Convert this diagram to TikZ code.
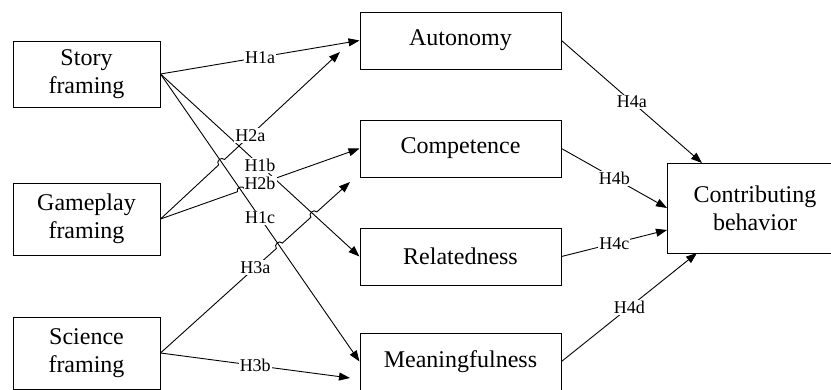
\documentclass[tikz,border=0pt]{standalone}
\usepackage{fontspec}
\setmainfont{Liberation Serif}
\usetikzlibrary{arrows.meta,calc,intersections}

\begin{document}
\begin{tikzpicture}[x=1pt,y=-1pt,
  box/.style={draw,line width=1pt,align=center,inner sep=0pt,font=\fontsize{24}{28}\selectfont},
  lbl/.style={fill=white,inner sep=1pt,font=\fontsize{18}{20}\selectfont},
  arr/.style={line width=0.9pt,-{Triangle[length=11pt,width=8pt]}},
  hop/.style={bend left=90,looseness=1.5}]
\clip (0,0) rectangle (831,389);
%% framings on the left
    \node [box,minimum width=147pt,minimum height=66pt] (story) at (86.5,74) {Story\\framing};
    \node [box,minimum width=147pt,minimum height=72pt] (game) at (86.5,219) {Gameplay\\framing};
    \node [box,minimum width=147pt,minimum height=72pt] (sci) at (86.5,353) {Science\\framing};
%% needs in the middle
    \node [box,minimum width=201pt,minimum height=57pt] (auto) at (460.5,40.5) {Autonomy};
    \node [box,minimum width=201pt,minimum height=57pt] (comp) at (460.5,148.5) {Competence};
    \node [box,minimum width=201pt,minimum height=57pt] (rel) at (460.5,256.5) {Relatedness};
    \node [box,minimum width=201pt,minimum height=57pt] (mean) at (460.5,361.5) {Meaningfulness};
%% outcome
    \node [box,minimum width=176pt,minimum height=90pt] (cb) at (755,208) {Contributing\\behavior};
%% loose arrow ends
    \coordinate (a2tip) at (340,52);
    \coordinate (a3tip) at (350,182);
    \coordinate (b3tip) at (350,378);
    \coordinate (c4a) at (702,163);
    \coordinate (c4b) at (667,208);
    \coordinate (c4c) at (667,230);
    \coordinate (c4d) at (697,253);
%% crossings, so the lines can hop
    \path [name path=p1b] (story.east) -- (rel.west);
    \path [name path=p1c] (story.east) -- (mean.west);
    \path [name path=p2a] (game.east) -- (a2tip);
    \path [name path=p2b] (game.east) -- (comp.west);
    \path [name path=p3a] (sci.east) -- (a3tip);
    \path [name intersections={of=p1c and p2a,by=j1}];
    \path [name intersections={of=p1c and p2b,by=j2}];
    \path [name intersections={of=p1c and p3a,by=j3}];
    \path [name intersections={of=p1b and p3a,by=j4}];
%% arrows
    \draw [arr] (story.east) -- (auto.west);
    \draw [arr] (story.east) -- (rel.west);
    \draw [arr] (story.east) -- (mean.west);
    \draw [arr] (game.east) -- ($(j1)!4pt!(game.east)$) to[hop] ($(j1)!4pt!(a2tip)$) -- (a2tip);
    \draw [arr] (game.east) -- ($(j2)!4pt!(game.east)$) to[hop] ($(j2)!4pt!(comp.west)$) -- (comp.west);
    \draw [arr] (sci.east) -- ($(j3)!4pt!(sci.east)$) to[hop] ($(j3)!4pt!(a3tip)$)
        -- ($(j4)!4pt!(sci.east)$) to[hop] ($(j4)!4pt!(a3tip)$) -- (a3tip);
    \draw [arr] (sci.east) -- (b3tip);
    \draw [arr] (auto.east) -- (c4a);
    \draw [arr] (comp.east) -- (c4b);
    \draw [arr] (rel.east) -- (c4c);
    \draw [arr] (mean.east) -- (c4d);
%% hypothesis labels
    \node [lbl] (l1a) at ($(story.east)!0.5!(auto.west)$) {H1a};
    \node [lbl] (l1b) at ($(story.east)!0.5!(rel.west)$) {H1b};
    \node [lbl] (l1c) at ($(story.east)!0.5!(mean.west)$) {H1c};
    \node [lbl] (l2a) at ($(game.east)!0.5!(a2tip)$) {H2a};
    \node [lbl] (l2b) at ($(game.east)!0.5!(comp.west)$) {H2b};
    \node [lbl] (l3a) at ($(sci.east)!0.5!(a3tip)$) {H3a};
    \node [lbl] (l3b) at ($(sci.east)!0.5!(b3tip)$) {H3b};
    \node [lbl] (l4a) at ($(auto.east)!0.5!(c4a)$) {H4a};
    \node [lbl] (l4b) at ($(comp.east)!0.5!(c4b)$) {H4b};
    \node [lbl] (l4c) at ($(rel.east)!0.5!(c4c)$) {H4c};
    \node [lbl] (l4d) at ($(mean.east)!0.5!(c4d)$) {H4d};
\end{tikzpicture}
\end{document}
